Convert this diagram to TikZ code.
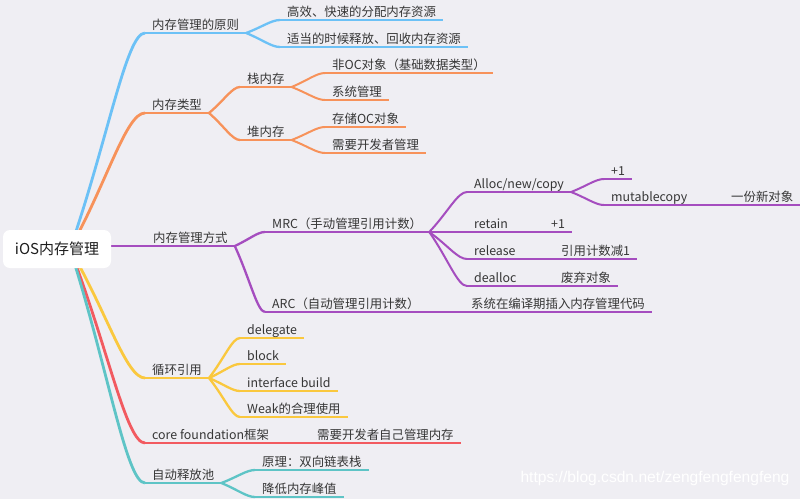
\documentclass[tikz,border=0pt]{standalone}
\usepackage{fontspec}
\setmainfont{Noto Sans CJK SC}
\newfontfamily\markfont{Liberation Sans}
\usetikzlibrary{calc,backgrounds}
\definecolor{bgGray}{HTML}{EFEEF3}
\definecolor{inkText}{HTML}{363636}
\definecolor{inkRoot}{HTML}{1E1E1E}
\definecolor{lineBlue}{HTML}{6CC1F6}
\definecolor{lineOrange}{HTML}{F7925A}
\definecolor{linePurple}{HTML}{A54DBF}
\definecolor{lineYellow}{HTML}{FAC83E}
\definecolor{lineRed}{HTML}{F25A60}
\definecolor{lineTeal}{HTML}{5EC4C6}

% curved branch: leaves the parent, ends flat under the child
\newcommand{\branchlink}[3]{%
  \draw[#1] let \p1=(#2), \p2=(#3) in
    (\p1) .. controls ({0.5*\x1+0.5*\x2},{0.5*\y1+0.5*\y2}) and ({0.25*\x1+0.75*\x2},\y2) .. (\p2);}

\begin{document}
\begin{tikzpicture}[x=1pt, y=-1pt, line cap=round,
    topic/.style={anchor=south west, inner xsep=7pt, inner ysep=3.5pt, text depth=0pt,
      text=inkText, font=\fontsize{12.4}{14}\selectfont},
    rootbox/.style={fill=white, rounded corners=7pt, minimum width=108pt, minimum height=38pt,
      inner sep=0pt, text=inkRoot, font=\fontsize{15}{18}\selectfont}]
  \useasboundingbox (0,0) rectangle (800,499);

  \node (root) [rootbox] at (57,249) {iOS内存管理};
  \coordinate (hub) at ([xshift=13pt]root.center);

  % first level
  \node (prin)  [topic] at (145,33)  {内存管理的原则};
  \node (types) [topic] at (145,113) {内存类型};
  \node (mgmt)  [topic] at (146,246) {内存管理方式};
  \node (cycle) [topic] at (145,378) {循环引用};
  \node (cf)    [topic] at (145,443) {core foundation框架};
  \node (pool)  [topic] at (145,483) {自动释放池};

  % second level
  \node (prinA)  [topic] at (280,20)  {高效、快速的分配内存资源};
  \node (prinB)  [topic] at (280,47)  {适当的时候释放、回收内存资源};
  \node (stack)  [topic] at (240,87)  {栈内存};
  \node (heap)   [topic] at (240,140) {堆内存};
  \node (mrc)    [topic] at (265,232) {MRC（手动管理引用计数）};
  \node (arc)    [topic] at (265,312) {ARC（自动管理引用计数）};
  \node (dlg)    [topic] at (240,338) {delegate};
  \node (blk)    [topic] at (240,364) {block};
  \node (ib)     [topic] at (240,391) {interface build};
  \node (weak)   [topic] at (240,417) {Weak的合理使用};
  \node (cfNote) [topic] at (310,443) {需要开发者自己管理内存};
  \node (poolA)  [topic] at (255,470) {原理：双向链表栈};
  \node (poolB)  [topic] at (255,497) {降低内存峰值};

  % third level and below
  \node (nonOC)   [topic] at (325,73)  {非OC对象（基础数据类型）};
  \node (sysMgmt) [topic] at (325,100) {系统管理};
  \node (storeOC) [topic] at (325,127) {存储OC对象};
  \node (devMgmt) [topic] at (325,153) {需要开发者管理};
  \node (alloc)   [topic] at (467,192) {Alloc/new/copy};
  \node (retain)  [topic] at (467,232) {retain};
  \node (release) [topic] at (467,259) {release};
  \node (dealloc) [topic] at (467,286) {dealloc};
  \node (arcNote) [topic] at (464,312) {系统在编译期插入内存管理代码};
  \node (plusA)   [topic] at (604,179) {+1};
  \node (mcopy)   [topic] at (604,205) {mutablecopy};
  \node (retPlus) [topic] at (544,232) {+1};
  \node (relNote) [topic] at (554,259) {引用计数减1};
  \node (deaNote) [topic] at (554,286) {废弃对象};
  \node (newObj)  [topic] at (724,205) {一份新对象};

  \node (mark) [font=\markfont\fontsize{15.6}{18}\selectfont, text=white] at (655,478)
    {https://blog.csdn.net/zengfengfengfeng};

  \begin{pgfonlayer}{background}
    \fill[bgGray] (0,0) rectangle (800,499);

    % underlines
    \foreach \n/\c/\w in {prin/lineBlue/2.8, types/lineOrange/2.8, mgmt/linePurple/2.8,
        cycle/lineYellow/2.8, cf/lineRed/2.8, pool/lineTeal/2.8,
        prinA/lineBlue/2.3, prinB/lineBlue/2.3, stack/lineOrange/2.3, heap/lineOrange/2.3,
        mrc/linePurple/2.3, arc/linePurple/2.3, dlg/lineYellow/2.3, blk/lineYellow/2.3,
        ib/lineYellow/2.3, weak/lineYellow/2.3, cfNote/lineRed/2.3, poolA/lineTeal/2.3,
        poolB/lineTeal/2.3,
        nonOC/lineOrange/2, sysMgmt/lineOrange/2, storeOC/lineOrange/2, devMgmt/lineOrange/2,
        alloc/linePurple/2, retain/linePurple/2, release/linePurple/2, dealloc/linePurple/2,
        arcNote/linePurple/2, plusA/linePurple/2, mcopy/linePurple/2, retPlus/linePurple/2,
        relNote/linePurple/2, deaNote/linePurple/2, newObj/linePurple/2}
      \draw[color=\c, line width=\w pt] (\n.south west) -- (\n.south east);

    % branches from the root
    \foreach \b/\c in {prin/lineBlue, types/lineOrange, cycle/lineYellow, cf/lineRed, pool/lineTeal}
      \branchlink{color=\c, line width=2.8pt}{hub}{\b.south west};
    \branchlink{color=linePurple, line width=2.8pt}{root.east |- mgmt.south west}{mgmt.south west};

    % branches between topics
    \foreach \a/\b/\c/\w in {prin/prinA/lineBlue/2.3, prin/prinB/lineBlue/2.3,
        types/stack/lineOrange/2.3, types/heap/lineOrange/2.3,
        stack/nonOC/lineOrange/2, stack/sysMgmt/lineOrange/2,
        heap/storeOC/lineOrange/2, heap/devMgmt/lineOrange/2,
        mgmt/mrc/linePurple/2.3, mgmt/arc/linePurple/2.3,
        mrc/alloc/linePurple/2, mrc/retain/linePurple/2, mrc/release/linePurple/2,
        mrc/dealloc/linePurple/2, alloc/plusA/linePurple/2, alloc/mcopy/linePurple/2,
        mcopy/newObj/linePurple/2, retain/retPlus/linePurple/2, release/relNote/linePurple/2,
        dealloc/deaNote/linePurple/2, arc/arcNote/linePurple/2,
        cycle/dlg/lineYellow/2.3, cycle/blk/lineYellow/2.3, cycle/ib/lineYellow/2.3,
        cycle/weak/lineYellow/2.3, cf/cfNote/lineRed/2.3,
        pool/poolA/lineTeal/2.3, pool/poolB/lineTeal/2.3}
      \branchlink{color=\c, line width=\w pt}{\a.south east}{\b.south west};
  \end{pgfonlayer}
\end{tikzpicture}
\end{document}
